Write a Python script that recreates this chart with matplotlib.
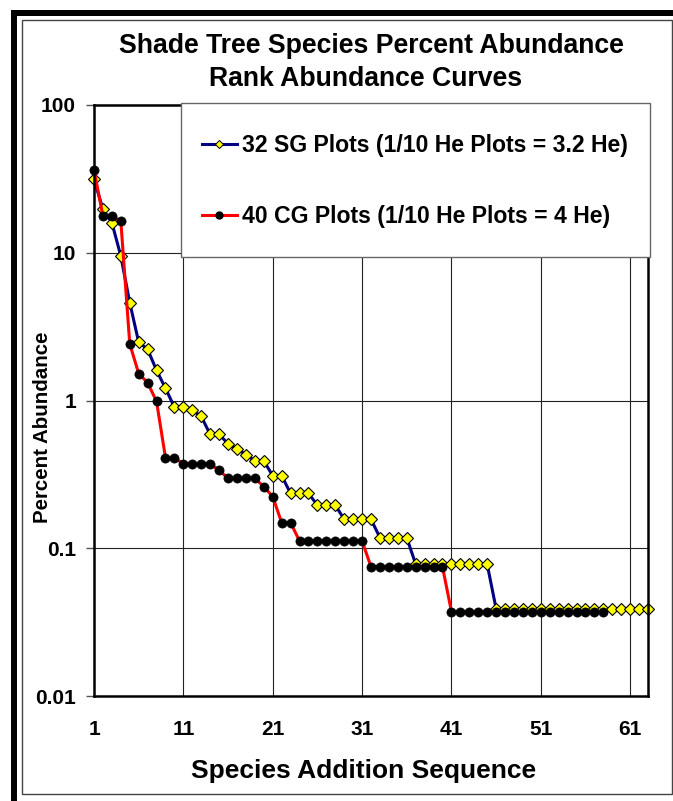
import matplotlib
matplotlib.use("Agg")
import matplotlib.pyplot as plt
from matplotlib.patches import Rectangle
from matplotlib.lines import Line2D

# ---- data ----
sg_label = "32 SG Plots (1/10 He Plots = 3.2 He)"
cg_label = "40 CG Plots (1/10 He Plots = 4 He)"

sg_values = [31.4, 19.7, 16.0, 9.5, 4.6, 2.48, 2.22, 1.6, 1.21, 0.90,
             0.90, 0.86, 0.78, 0.59, 0.59, 0.51, 0.47, 0.43, 0.39, 0.39,
             0.31, 0.31, 0.235, 0.235, 0.235, 0.196, 0.196, 0.196, 0.157, 0.157,
             0.157, 0.157, 0.118, 0.118, 0.118, 0.118,
             0.078, 0.078, 0.078, 0.078, 0.078, 0.078, 0.078, 0.078, 0.078,
             0.039, 0.039, 0.039, 0.039, 0.039, 0.039, 0.039, 0.039, 0.039,
             0.039, 0.039, 0.039, 0.039, 0.039, 0.039, 0.039, 0.039, 0.039]

cg_values = [36.3, 17.7, 17.7, 16.4, 2.42, 1.52, 1.32, 0.985, 0.41, 0.41,
             0.373, 0.373, 0.373, 0.373, 0.336, 0.298, 0.298, 0.298, 0.298, 0.261,
             0.224, 0.149, 0.149, 0.112, 0.112, 0.112, 0.112, 0.112, 0.112, 0.112,
             0.112, 0.075, 0.075, 0.075, 0.075, 0.075, 0.075, 0.075, 0.075, 0.075,
             0.0373, 0.0373, 0.0373, 0.0373, 0.0373, 0.0373, 0.0373, 0.0373, 0.0373,
             0.0373, 0.0373, 0.0373, 0.0373, 0.0373, 0.0373, 0.0373, 0.0373, 0.0373]

sg_x = list(range(1, len(sg_values) + 1))
cg_x = list(range(1, len(cg_values) + 1))

xtick_values = [1, 11, 21, 31, 41, 51, 61]
xtick_labels = ["1", "11", "21", "31", "41", "51", "61"]
ytick_values = [0.01, 0.1, 1, 10, 100]
ytick_labels = ["0.01", "0.1", "1", "10", "100"]

title_line1 = "Shade Tree Species Percent Abundance"
title_line2 = "Rank Abundance Curves"
xlabel = "Species Addition Sequence"
ylabel = "Percent Abundance"

# ---- figure ----
W, H = 673, 801
plt.rcParams['font.family'] = ['Liberation Sans', 'DejaVu Sans']
plt.rcParams['font.weight'] = 'bold'
fig = plt.figure(figsize=(W / 100, H / 100), dpi=100)
fig.patch.set_facecolor('white')

def fx(px):
    return px / W

def fy(py):
    return 1 - py / H

# outer frame decorations
fig.add_artist(Rectangle((fx(11), fy(801)), fx(6), fy(10) - fy(801),
                         transform=fig.transFigure, facecolor='black', edgecolor='none'))
fig.add_artist(Rectangle((fx(11), fy(16)), 1 - fx(11), fy(10) - fy(16),
                         transform=fig.transFigure, facecolor='black', edgecolor='none'))
fig.add_artist(Rectangle((fx(22), fy(794)), fx(672) - fx(22), fy(20) - fy(794),
                         transform=fig.transFigure, facecolor='none', edgecolor='#444444',
                         linewidth=1.0))

ax_left, ax_right, ax_top, ax_bottom = 94, 648, 105, 696
ax = fig.add_axes([fx(ax_left), fy(ax_bottom), fx(ax_right) - fx(ax_left),
                   fy(ax_top) - fy(ax_bottom)])
ax.set_yscale('log')
ax.set_xlim(1, 63)
ax.set_ylim(0.01, 100)

# gridlines
for xv in xtick_values[1:]:
    ax.axvline(xv, color='#222222', linewidth=0.8, zorder=1)
for yv in ytick_values[1:-1]:
    ax.axhline(yv, color='#222222', linewidth=0.8, zorder=1)

ax.plot(sg_x, sg_values, color='#000080', linewidth=2.2, marker='D', markersize=6.0,
        markerfacecolor='#FFFF00', markeredgecolor='black', markeredgewidth=0.8,
        zorder=3, clip_on=False)
ax.plot(cg_x, cg_values, color='#FF0000', linewidth=2.2, marker='o', markersize=6.6,
        markerfacecolor='black', markeredgecolor='black', markeredgewidth=0.5,
        zorder=4, clip_on=False)

ax.set_xticks(xtick_values)
ax.set_xticklabels(xtick_labels)
ax.set_yticks(ytick_values)
ax.set_yticklabels(ytick_labels)
ax.minorticks_off()
ax.tick_params(axis='x', length=0, pad=17, labelsize=15)
ax.tick_params(axis='y', length=6, width=1, color='#555555', pad=7, labelsize=15,
               direction='out')
for lab in ax.get_xticklabels() + ax.get_yticklabels():
    lab.set_fontweight('bold')

for s in ax.spines.values():
    s.set_linewidth(1.8)
    s.set_color('black')
    s.set_zorder(5)

# legend box
lx0 = (181 - ax_left) / (ax_right - ax_left)
lx1 = (650 - ax_left) / (ax_right - ax_left)
ly0 = (ax_bottom - 257) / (ax_bottom - ax_top)
ly1 = (ax_bottom - 103) / (ax_bottom - ax_top)
ax.add_patch(Rectangle((lx0, ly0), lx1 - lx0, ly1 - ly0, transform=ax.transAxes,
                       facecolor='white', edgecolor='#666666', linewidth=1.0,
                       zorder=6, clip_on=False))

handles = [
    Line2D([0], [0], color='#000080', linewidth=2.2, marker='D', markersize=4.5,
           markerfacecolor='#FFFF00', markeredgecolor='black', markeredgewidth=0.7),
    Line2D([0], [0], color='#FF0000', linewidth=2.2, marker='o', markersize=5,
           markerfacecolor='black', markeredgecolor='black'),
]
leg = ax.legend(handles, [sg_label, cg_label], loc='center left',
                bbox_to_anchor=((201.7 - ax_left) / (ax_right - ax_left),
                                (ax_bottom - 180.8) / (ax_bottom - ax_top)),
                frameon=False, borderpad=0, borderaxespad=0, handlelength=1.52,
                handletextpad=0.22, labelspacing=2.1,
                prop={'size': 16.6, 'weight': 'bold'})
leg.set_zorder(7)

# titles and labels
fig.text(fx(371), fy(46), title_line1, ha='center', va='center', fontsize=19.2,
         fontweight='bold')
fig.text(fx(366), fy(79), title_line2, ha='center', va='center', fontsize=19.2,
         fontweight='bold')
fig.text(fx(364), fy(771), xlabel, ha='center', va='center', fontsize=19,
         fontweight='bold')
fig.text(fx(43), fy(427), ylabel, ha='center', va='center', fontsize=14.8,
         fontweight='bold', rotation=90)

fig.savefig('out.png', dpi=100)
